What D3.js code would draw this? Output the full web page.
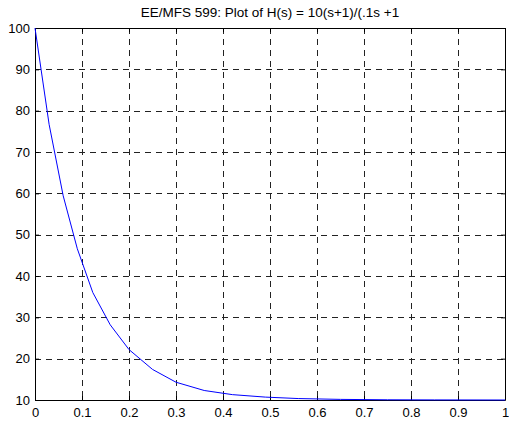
<!DOCTYPE html>
<html lang="en">
<head>
<meta charset="utf-8">
<title>EE/MFS 599 plot</title>
<script src="https://d3js.org/d3.v7.min.js"></script>
<style>
  body { margin: 0; background: #fff; }
  text { font-family: "Liberation Sans", Arial, sans-serif; }
</style>
</head>
<body>
<script>
// values
var tVals = [0, 0.03, 0.06, 0.09, 0.123, 0.16, 0.2, 0.25, 0.3, 0.36, 0.42, 0.49, 0.56, 0.65, 0.75, 0.85, 1.0];
var hVals = [100, 76.7, 59.4, 46.6, 36.0, 28.2, 22.2, 17.4, 14.3, 12.3, 11.3, 10.7, 10.35, 10.15, 10.05, 10.02, 10.0];
var xTicks = [0, 0.1, 0.2, 0.3, 0.4, 0.5, 0.6, 0.7, 0.8, 0.9, 1];
var yTicks = [10, 20, 30, 40, 50, 60, 70, 80, 90, 100];
var titleText = "EE/MFS 599: Plot of H(s) = 10(s+1)/(.1s +1";

var W = 509, H = 421;
var margin = {top: 28, right: 4, bottom: 21, left: 35};
var width = W - margin.left - margin.right,
    height = H - margin.top - margin.bottom;

var svg = d3.select("body").append("svg")
    .attr("width", W).attr("height", H);

var g = svg.append("g")
    .attr("transform", "translate(" + margin.left + "," + margin.top + ")");

var x = d3.scaleLinear().domain([0, 1]).range([0, width]);
var y = d3.scaleLinear().domain([10, 100]).range([height, 0]);

// dashed grid
g.append("g").selectAll("line").data(xTicks.slice(1, -1)).enter().append("line")
    .attr("x1", function(d){ return Math.round(x(d)) + 0.5; })
    .attr("x2", function(d){ return Math.round(x(d)) + 0.5; })
    .attr("y1", 0).attr("y2", height)
    .attr("stroke", "#222").attr("stroke-dasharray", "6,5");
g.append("g").selectAll("line").data(yTicks.slice(1, -1)).enter().append("line")
    .attr("y1", function(d){ return Math.round(y(d)) + 0.5; })
    .attr("y2", function(d){ return Math.round(y(d)) + 0.5; })
    .attr("x1", 0).attr("x2", width)
    .attr("stroke", "#222").attr("stroke-dasharray", "6,5");

// axes, ticks inward on all four sides
var noLabel = function(){ return ""; };
var axBottom = d3.axisBottom(x).tickValues(xTicks).tickFormat(d3.format("")).tickSizeInner(-4).tickSizeOuter(0).tickPadding(8);
var axLeft = d3.axisLeft(y).tickValues(yTicks).tickSizeInner(-4).tickSizeOuter(0).tickPadding(5);
var axTop = d3.axisTop(x).tickValues(xTicks).tickFormat(noLabel).tickSizeInner(-4).tickSizeOuter(0);
var axRight = d3.axisRight(y).tickValues(yTicks).tickFormat(noLabel).tickSizeInner(-4).tickSizeOuter(0);

[[axBottom, "translate(0," + height + ")"], [axLeft, null], [axTop, null], [axRight, "translate(" + width + ",0)"]].forEach(function(a){
  var ax = g.append("g").call(a[0]);
  if (a[1]) ax.attr("transform", a[1]);
  ax.attr("font-family", null).attr("font-size", null);
  ax.selectAll("path,line").attr("stroke", "#000");
  ax.selectAll("text").style("font-size", "13px").attr("fill", "#000");
});

// curve
var line = d3.line()
    .x(function(d, i){ return x(tVals[i]); })
    .y(function(d){ return y(d); });
g.append("path").datum(hVals)
    .attr("d", line)
    .attr("fill", "none")
    .attr("stroke", "#0000ff")
    .attr("stroke-width", 1);

// title
svg.append("text")
    .attr("x", margin.left + width / 2)
    .attr("y", 17)
    .attr("text-anchor", "middle")
    .style("font-size", "13.5px")
    .attr("fill", "#000")
    .text(titleText);
</script>
</body>
</html>
